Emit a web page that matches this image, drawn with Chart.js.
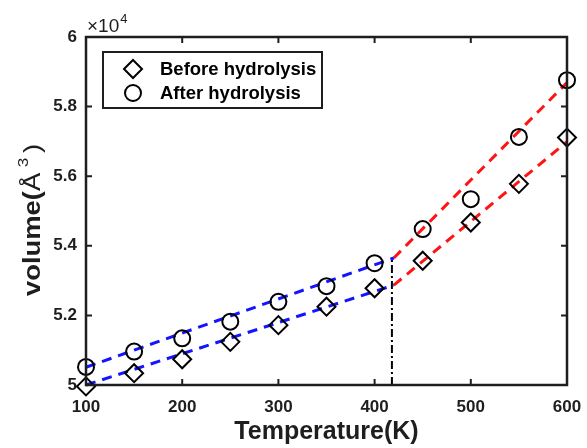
<!DOCTYPE html>
<html><head><meta charset="utf-8">
<script src="https://cdn.jsdelivr.net/npm/chart.js@4/dist/chart.umd.min.js"></script>
<style>html,body{margin:0;padding:0;background:#fff}</style>
</head><body>
<canvas id="c" width="587" height="448"></canvas>
<script>
// values in units of 10^4 Å^3
const temperatures = [100,150,200,250,300,350,400,450,500,550,600];
const volumeBefore = [4.996,5.034,5.074,5.124,5.172,5.225,5.278,5.357,5.467,5.578,5.711];
const volumeAfter  = [5.052,5.096,5.134,5.182,5.239,5.284,5.350,5.448,5.534,5.713,5.876];
const fitBeforeLowT = [100,420], fitBeforeLowV = [5.000,5.287];
const fitAfterLowT  = [100,420], fitAfterLowV  = [5.051,5.365];
const fitBeforeHighT = [420,600], fitBeforeHighV = [5.287,5.699];
const fitAfterHighT  = [420,600], fitAfterHighV  = [5.365,5.869];
const transitionT = [418,418], transitionV = [5.0,5.365];
const xTicks = [100,200,300,400,500,600];
const yTicks = [5,5.2,5.4,5.6,5.8,6];
const seriesNames = ['Before hydrolysis','After hydrolysis'];

const pts = (xs, ys) => xs.map((x,i)=>({x, y: ys[i]}));
const FONT = '"Liberation Sans", Arial, sans-serif';
const INK = '#1e1e1e';

const fitLine = (xs, ys, color) => ({
  data: pts(xs, ys), showLine: true, borderColor: color, borderWidth: 3,
  borderDash: [10,7], pointRadius: 0, fill: false, clip: false, order: 2
});

const framePlugin = {
  id: 'frame',
  afterDatasetsDraw(chart) {
    const {ctx, chartArea: a, scales: {x, y}} = chart;
    ctx.save();
    ctx.strokeStyle = INK; ctx.lineWidth = 2.5;
    ctx.strokeRect(a.left, a.top, a.right - a.left, a.bottom - a.top);
    ctx.lineWidth = 2;
    const tl = 6;
    ctx.beginPath();
    xTicks.forEach(v => { const px = x.getPixelForValue(v);
      ctx.moveTo(px, a.bottom); ctx.lineTo(px, a.bottom - tl);
      ctx.moveTo(px, a.top); ctx.lineTo(px, a.top + tl); });
    yTicks.forEach(v => { const py = y.getPixelForValue(v);
      ctx.moveTo(a.left, py); ctx.lineTo(a.left + tl, py);
      ctx.moveTo(a.right, py); ctx.lineTo(a.right - tl, py); });
    ctx.stroke();

    // exponent label
    ctx.fillStyle = INK; ctx.textBaseline = 'alphabetic'; ctx.textAlign = 'left';
    ctx.font = '19px ' + FONT;
    ctx.fillText('\u00d710', a.left + 1, 32);
    const w = ctx.measureText('\u00d710').width;
    ctx.font = '13px ' + FONT;
    ctx.fillText('4', a.left + 1 + w + 1, 23);

    // legend
    const bx = 103, by = 52, bw = 219, bh = 56;
    ctx.fillStyle = '#fff';
    ctx.fillRect(bx, by, bw, bh);
    ctx.lineWidth = 2; ctx.strokeStyle = INK;
    ctx.strokeRect(bx, by, bw, bh);
    const rows = [{style:'rectRot', r:9, y:69}, {style:'circle', r:8, y:93}];
    rows.forEach((r, i) => {
      ctx.save();
      ctx.strokeStyle = '#000'; ctx.fillStyle = 'rgba(0,0,0,0)'; ctx.lineWidth = 2;
      Chart.helpers.drawPoint(ctx, {pointStyle: r.style, radius: r.r, borderWidth: 2, rotation: 0}, 133, r.y);
      ctx.restore();
      ctx.fillStyle = '#000'; ctx.font = 'bold 18.5px ' + FONT; ctx.textBaseline = 'middle';
      ctx.fillText(seriesNames[i], 160, r.y + 1);
    });

    // y title with superscript
    ctx.save();
    ctx.translate(40, 220);
    ctx.rotate(-Math.PI/2);
    ctx.scale(1.14, 1);
    ctx.textBaseline = 'alphabetic'; ctx.fillStyle = INK;
    const parts = [
      {t:'volume(', f:'bold 24px ' + FONT, dy:0, gap:0},
      {t:'\u00c5', f:'24px ' + FONT, dy:0, gap:5},
      {t:'3', f:'15px ' + FONT, dy:-12, gap:4},
      {t:')', f:'24px ' + FONT, dy:0, gap:0}
    ];
    let total = 0;
    parts.forEach(p => { ctx.font = p.f; p.w = ctx.measureText(p.t).width; total += p.w + p.gap; });
    let cx = -total/2;
    parts.forEach(p => { ctx.font = p.f; ctx.fillText(p.t, cx, p.dy); cx += p.w + p.gap; });
    ctx.restore();
    ctx.restore();
  }
};

new Chart(document.getElementById('c'), {
  type: 'scatter',
  data: {
    datasets: [
      fitLine(fitBeforeLowT, fitBeforeLowV, '#1414ff'),
      fitLine(fitAfterLowT, fitAfterLowV, '#1414ff'),
      fitLine(fitBeforeHighT, fitBeforeHighV, '#ff1414'),
      fitLine(fitAfterHighT, fitAfterHighV, '#ff1414'),
      { data: pts(transitionT, transitionV), showLine: true, borderColor: '#000', borderWidth: 2,
        borderDash: [8,3,2,3], pointRadius: 0, clip: false, order: 2 },
      { label: seriesNames[0], data: pts(temperatures, volumeBefore), pointStyle: 'rectRot',
        pointRadius: 9, borderColor: '#000', backgroundColor: 'rgba(0,0,0,0)', borderWidth: 2,
        showLine: false, clip: false, order: 1 },
      { label: seriesNames[1], data: pts(temperatures, volumeAfter), pointStyle: 'circle',
        pointRadius: 8, borderColor: '#000', backgroundColor: 'rgba(0,0,0,0)', borderWidth: 2,
        showLine: false, clip: false, order: 1 }
    ]
  },
  options: {
    responsive: false, animation: false, devicePixelRatio: 1,
    layout: { padding: { top: 37, right: 20, left: 0, bottom: 0 } },
    plugins: { legend: { display: false }, tooltip: { enabled: false } },
    scales: {
      x: {
        type: 'linear', min: 100, max: 600,
        afterFit: s => { s.height = 63; s.paddingLeft = 0; s.paddingRight = 0; },
        afterBuildTicks: s => { s.ticks = xTicks.map(v => ({value: v})); },
        grid: { display: false, drawTicks: false }, border: { display: false },
        ticks: { padding: 12, color: INK, font: { family: FONT, size: 17, weight: 'bold' }, maxRotation: 0 },
        title: { display: true, text: 'Temperature(K)', color: INK, padding: { top: 2, bottom: 1 },
                 font: { family: FONT, size: 25, weight: 'bold', lineHeight: 1.2 } }
      },
      y: {
        type: 'linear', min: 5, max: 6,
        afterFit: s => { s.width = 86; s.paddingTop = 0; s.paddingBottom = 0; },
        afterBuildTicks: s => { s.ticks = yTicks.map(v => ({value: v})); },
        grid: { display: false, drawTicks: false }, border: { display: false },
        ticks: { padding: 9, color: INK, font: { family: FONT, size: 17, weight: 'bold' },
                 callback: v => String(Number(v.toFixed(1))) }
      }
    }
  },
  plugins: [framePlugin]
});
</script>
</body></html>
